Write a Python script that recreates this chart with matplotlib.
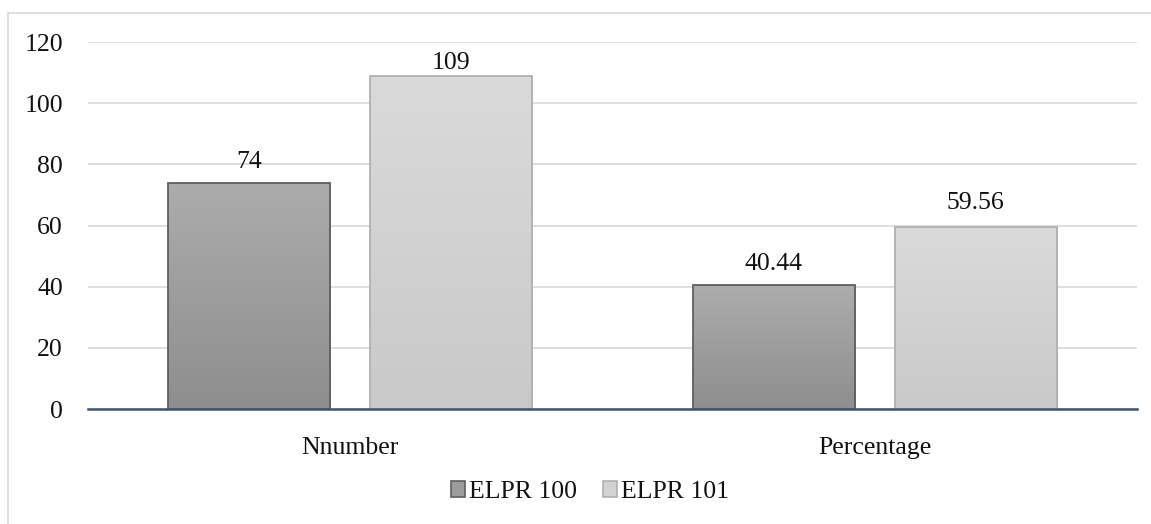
import numpy as np
import matplotlib
matplotlib.use("Agg")
import matplotlib.pyplot as plt
import matplotlib.patches as mpatches
from matplotlib.colors import LinearSegmentedColormap

categories = ["Nnumber", "Percentage"]
series_names = ["ELPR 100", "ELPR 101"]
elpr100 = [74, 40.44]
elpr101 = [109, 59.56]
value_labels = [["74", "40.44"], ["109", "59.56"]]

plt.rcParams['font.family'] = ['Liberation Serif', 'DejaVu Serif']

fig = plt.figure(figsize=(11.51, 5.24), dpi=100)
ax = fig.add_axes([88/1151, 115/524, 1049/1151, 367/524])

# outer chart border
fig.patches.append(mpatches.Rectangle((8/1151, -0.1), 1.2, 0.1 + (524-13)/524,
                                      transform=fig.transFigure, fill=False,
                                      edgecolor="#d9d9d9", lw=1.2))

x = np.arange(len(categories))
w = 0.309
off = 0.1925
tops = [("#acacac", "#8e8e8e", "#5f5f5f"), ("#dadada", "#c9c9c9", "#b0b0b0")]
label_pad = [[10, 10], [2, 13]]
txt = "#111111"

for s, vals in enumerate([elpr100, elpr101]):
    c_top, c_bot, c_edge = tops[s]
    cmap = LinearSegmentedColormap.from_list("g%d" % s, [c_bot, c_top])
    bars = ax.bar(x + (2*s - 1) * off, vals, w, color="none", edgecolor=c_edge,
                  lw=1.3, zorder=3)
    for b, v, lab, pad in zip(bars, vals, value_labels[s], label_pad[s]):
        x0, y0 = b.get_x(), b.get_y()
        grad = np.linspace(0, 1, 256).reshape(-1, 1)
        im = ax.imshow(grad, cmap=cmap, origin="lower", aspect="auto",
                       extent=[x0, x0 + b.get_width(), y0, y0 + b.get_height()],
                       zorder=2)
        im.set_clip_path(b)
        ax.annotate(lab, (b.get_x() + b.get_width()/2, v), xytext=(0, pad),
                    textcoords="offset pixels", ha="center", va="bottom",
                    fontsize=18.5, color=txt)

ax.set_xlim(-0.5, 1.5)
ax.set_ylim(0, 120)
ax.set_yticks(range(0, 121, 20))
ax.set_xticks(x)
ax.set_xticklabels(categories)
ax.tick_params(axis="both", length=0, labelsize=18.5, labelcolor=txt)
ax.tick_params(axis="y", pad=18)
ax.tick_params(axis="x", pad=20)
ax.yaxis.grid(True, color="#d9d9d9", lw=1.2, zorder=0)
ax.set_axisbelow(True)
for sp in ["top", "right", "left"]:
    ax.spines[sp].set_visible(False)
ax.spines["bottom"].set_color("#44546a")
ax.spines["bottom"].set_linewidth(1.8)
ax.spines["bottom"].set_zorder(4)

handles = [mpatches.Patch(facecolor="#9c9c9c", edgecolor="#5f5f5f", lw=1.2),
           mpatches.Patch(facecolor="#d2d2d2", edgecolor="#b0b0b0", lw=1.2)]
fig.legend(handles, series_names, loc="center", bbox_to_anchor=(590/1151, 1 - 492/524),
           ncol=2, frameon=False, fontsize=18.5, handlelength=0.55, handleheight=0.55,
           handletextpad=0.15, columnspacing=1.0, labelcolor=txt)

fig.savefig("out.png", dpi=100)
